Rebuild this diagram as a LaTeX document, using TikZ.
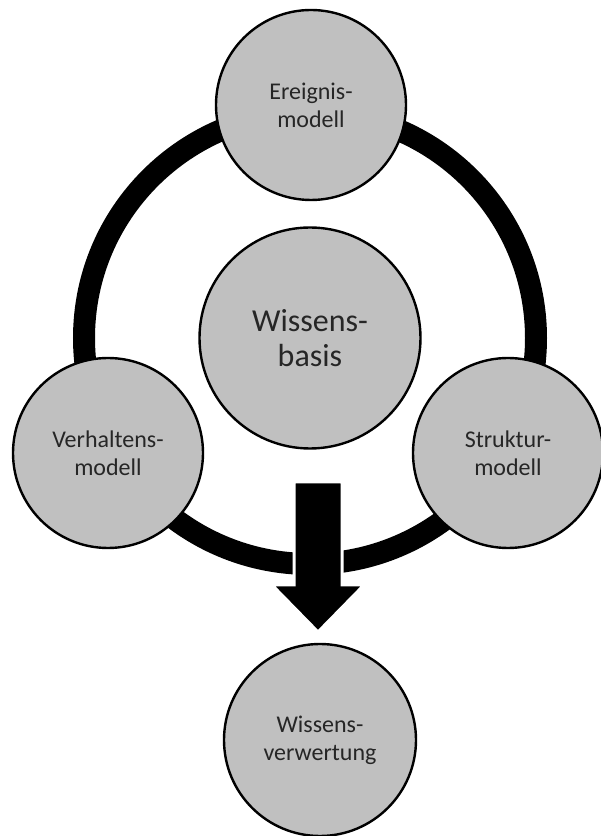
\documentclass[tikz,border=0pt]{standalone}
\usepackage{fontspec}
\usetikzlibrary{calc}
\setmainfont{Carlito}
\definecolor{ballgray}{HTML}{C0C0C0}
\definecolor{txtgray}{HTML}{262626}
\begin{document}
\begin{tikzpicture}[x=1pt,y=1pt,
  ball/.style={circle,draw=black,line width=2.4pt,fill=ballgray,text=txtgray,
    align=center,inner sep=0pt,minimum size=190pt,font=\fontsize{24}{28}\selectfont},
  bigball/.style={ball,minimum size=221pt,font=\fontsize{32}{35}\selectfont}]
\useasboundingbox (0,0) rectangle (601,836);
\coordinate (c) at (310,498);
\draw[line width=22pt] (c) circle[radius=226];
% arrow
\coordinate (atop) at (318,354);
\coordinate (atip) at (318,204);
\draw[fill=black,draw=white,line width=3pt]
  ($(atop)+(-24,0)$) -- ($(atop)+(24,0)$) -- ($(atop)+(24,-103)$) -- ($(atop)+(46,-103)$)
  -- (atip) -- ($(atop)+(-46,-103)$) -- ($(atop)+(-24,-103)$) -- cycle;
\node[ball] (ereignis) at (311,731) {Ereignis-\\modell};
\node[bigball] (basis) at (c) {Wissens-\\basis};
\node[ball] (verhalten) at (108,383) {Verhaltens-\\modell};
\node[ball] (struktur) at (508,383) {Struktur-\\modell};
\node[ball,minimum size=192pt] (verwertung) at (320,96) {Wissens-\\verwertung};
\end{tikzpicture}
\end{document}
